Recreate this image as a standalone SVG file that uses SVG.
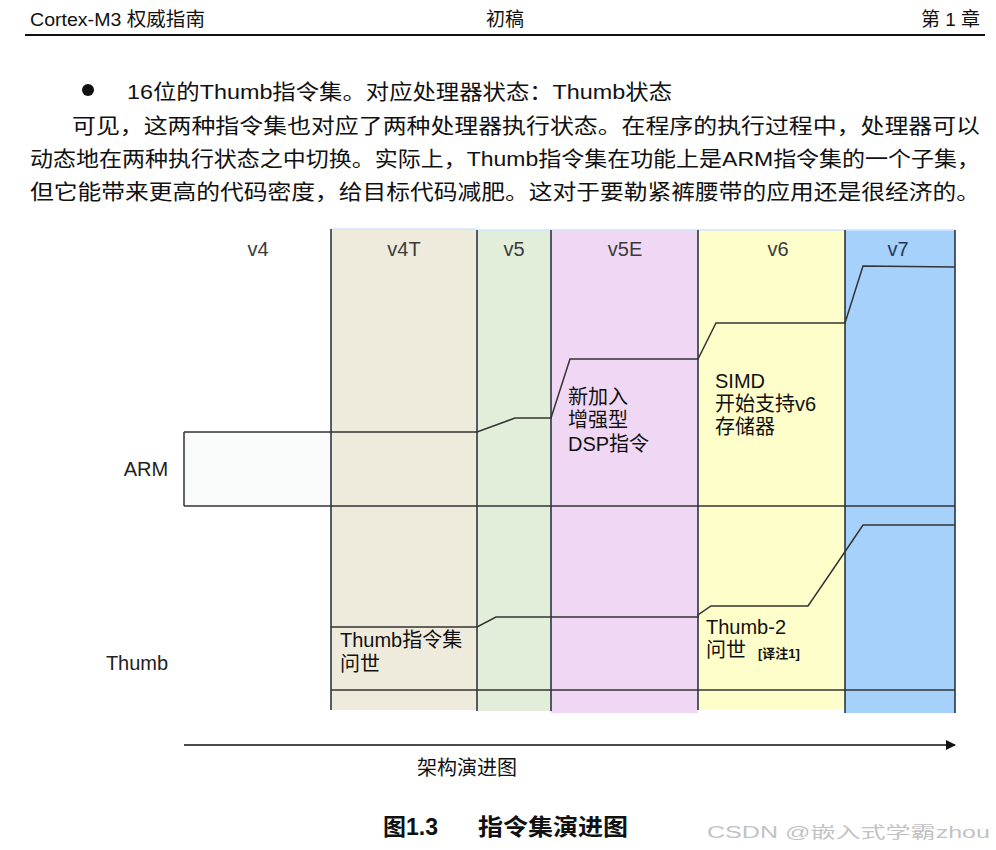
<svg xmlns="http://www.w3.org/2000/svg" width="996" height="850" viewBox="0 0 996 850">
<style>
.cn{font-family:"Liberation Sans","Noto Sans CJK SC",sans-serif;fill:#111}
.hdr{font-size:19px}
.body{font-size:21px}
.col{stroke:#1e2a3a;stroke-width:1.5}
.lbl{font-family:"Liberation Sans","Noto Sans CJK SC",sans-serif;font-size:20px;fill:#3a3a3a;text-anchor:middle}
.note{font-family:"Liberation Sans","Noto Sans CJK SC",sans-serif;font-size:20px;fill:#111}
.ln{fill:none;stroke:#333;stroke-width:1.5}
</style>
<defs>
<marker id="ah" markerWidth="10" markerHeight="10" refX="9" refY="5" orient="auto" markerUnits="userSpaceOnUse">
<path d="M0,0 L10,5 L0,10 Z" fill="#111"/>
</marker>
</defs>
<rect width="996" height="850" fill="#fff"/>
<g id="header">
<text class="cn hdr" x="30" y="26" textLength="175" lengthAdjust="spacingAndGlyphs">Cortex-M3 权威指南</text>
<text class="cn hdr" x="505" y="26" text-anchor="middle">初稿</text>
<text class="cn hdr" x="980" y="26" text-anchor="end">第 1 章</text>
<line x1="25" y1="35" x2="985" y2="35" stroke="#111" stroke-width="2"/>
</g>
<g id="paragraph">
<circle cx="88" cy="90" r="6" fill="#111"/>
<text class="cn body" x="127" y="99" textLength="545" lengthAdjust="spacingAndGlyphs">16位的Thumb指令集。对应处理器状态：Thumb状态</text>
<text class="cn body" x="72" y="133" textLength="908" lengthAdjust="spacingAndGlyphs">可见，这两种指令集也对应了两种处理器执行状态。在程序的执行过程中，处理器可以</text>
<text class="cn body" x="30" y="166" textLength="950" lengthAdjust="spacingAndGlyphs">动态地在两种执行状态之中切换。实际上，Thumb指令集在功能上是ARM指令集的一个子集，</text>
<text class="cn body" x="30" y="199" textLength="950" lengthAdjust="spacingAndGlyphs">但它能带来更高的代码密度，给目标代码减肥。这对于要勒紧裤腰带的应用还是很经济的。</text>
</g>
<g id="columns">
<g id="col-v4T"><rect x="331" y="229" width="146" height="481" fill="#EFEBDC"/><text class="lbl" x="404" y="256">v4T</text></g>
<g id="col-v5"><rect x="477" y="230" width="74" height="481" fill="#E3EEDA"/><text class="lbl" x="514" y="256">v5</text></g>
<g id="col-v5E"><rect x="551" y="230" width="147" height="483" fill="#F0D7F3"/><text class="lbl" x="625" y="256">v5E</text></g>
<g id="col-v6"><rect x="698" y="230" width="147" height="480" fill="#FEFECB"/><text class="lbl" x="778" y="256">v6</text></g>
<g id="col-v7"><rect x="845" y="230" width="110" height="483" fill="#A5D1FB"/><text class="lbl" x="898" y="256" style="fill:#223a5a">v7</text></g>
<g id="col-v4"><text class="lbl" x="258" y="256">v4</text></g>
<line x1="331" y1="229" x2="477" y2="229" stroke="#cfe6fb" stroke-width="1.5"/>
<line x1="477" y1="230" x2="955" y2="230" stroke="#cfe6fb" stroke-width="1.5"/>
</g>
<g id="arm-box">
<rect x="184" y="432" width="147" height="74" fill="#F9FBFA"/>
<text class="lbl" x="146" y="476" style="fill:#222">ARM</text>
</g>
<g id="thumb-label">
<text class="lbl" x="137" y="670" style="fill:#222">Thumb</text>
</g>
<g id="connectors">
<line class="col" x1="331" y1="229" x2="331" y2="710"/>
<line class="col" x1="477" y1="230" x2="477" y2="711"/>
<line class="col" x1="551" y1="230" x2="551" y2="711"/>
<line class="col" x1="698" y1="230" x2="698" y2="710"/>
<line class="col" x1="845" y1="230" x2="845" y2="713"/>
<line class="col" x1="955" y1="230" x2="955" y2="713" stroke="#2a4a70"/>
<line class="ln" x1="184" y1="432" x2="184" y2="506"/>
<polyline class="ln" points="184,432 477,432 515,418 551,418 570,359 698,359 716,323 845,323 863,266 955,267"/>
<line class="ln" x1="184" y1="506" x2="955" y2="506"/>
<polyline class="ln" points="331,627 477,627 496,617 698,617 698,615 711,606 808,606 836,565 863,525 955,525"/>
<line class="ln" x1="331" y1="690" x2="955" y2="690"/>
<line x1="184" y1="745" x2="955" y2="745" stroke="#111" stroke-width="1.5" marker-end="url(#ah)"/>
</g>
<g id="notes">
<text class="note" x="568" y="404">新加入</text>
<text class="note" x="568" y="427">增强型</text>
<text class="note" x="568" y="451">DSP指令</text>
<text class="note" x="715" y="388">SIMD</text>
<text class="note" x="715" y="411">开始支持v6</text>
<text class="note" x="715" y="434">存储器</text>
<text class="note" x="340" y="647">Thumb指令集</text>
<text class="note" x="340" y="671">问世</text>
<text class="note" x="706" y="634">Thumb-2</text>
<text class="note" x="706" y="657">问世</text>
<text class="note" x="758" y="658" style="font-size:13px;font-weight:bold">[译注1]</text>
</g>
<g id="axis-label">
<text class="cn" x="467" y="775" text-anchor="middle" font-size="20">架构演进图</text>
</g>
<g id="caption">
<text class="cn" x="383" y="835" font-size="23" font-weight="bold">图1.3</text>
<text class="cn" x="478" y="835" font-size="23" font-weight="bold" textLength="150" lengthAdjust="spacingAndGlyphs">指令集演进图</text>
</g>
<g id="watermark" opacity="0.6">
<text x="707" y="838" font-family="Liberation Sans,Noto Sans CJK SC,sans-serif" font-size="16" fill="#9a9a9a" textLength="283" lengthAdjust="spacingAndGlyphs">CSDN @嵌入式学霸zhou</text>
</g>
</svg>
